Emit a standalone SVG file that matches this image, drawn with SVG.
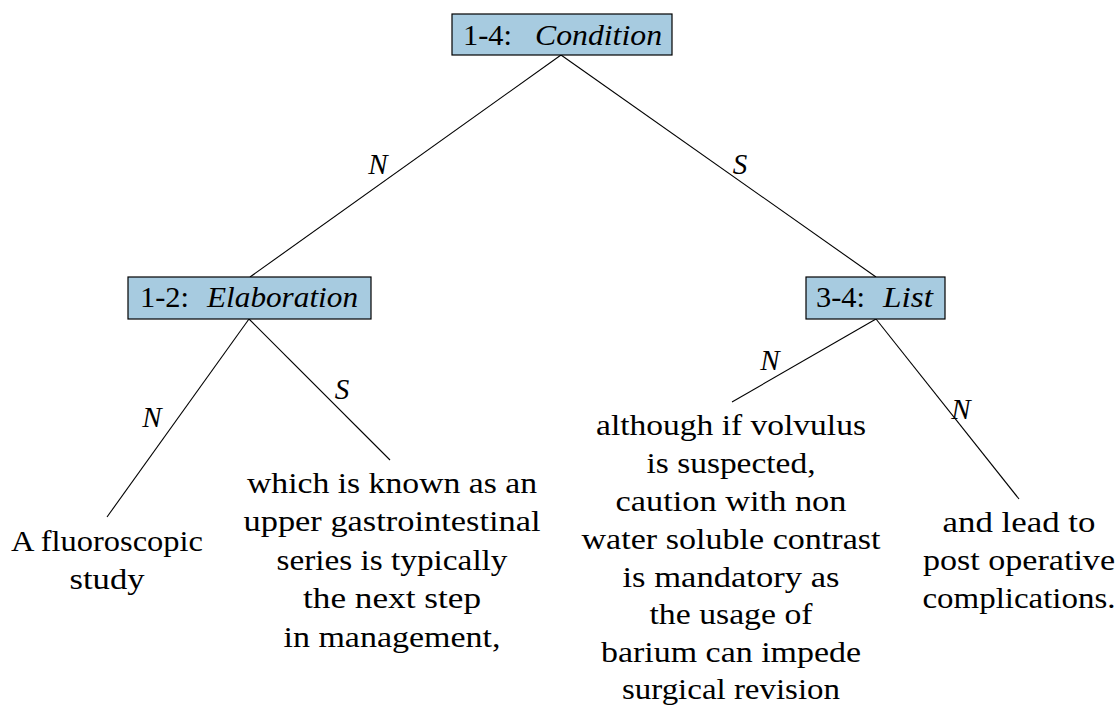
<svg xmlns="http://www.w3.org/2000/svg" width="1119" height="709" viewBox="0 0 1119 709">
<style>
.box{fill:#a7cbe0;stroke:#000;stroke-width:1.2}
.t{font-family:"Liberation Serif","DejaVu Serif",serif;font-size:29px;fill:#000;text-anchor:middle}
.b{font-family:"Liberation Serif","DejaVu Serif",serif;font-size:29px;fill:#000}
.it{font-style:italic}
.lbl{font-family:"Liberation Serif","DejaVu Serif",serif;font-size:29px;font-style:italic;fill:#000;text-anchor:middle}
.e{stroke:#000;stroke-width:1.1;fill:none}
</style>
<rect width="1119" height="709" fill="#fff"/>
<g id="connectors">
<line class="e" x1="561" y1="55" x2="250" y2="277"/>
<line class="e" x1="561" y1="55" x2="876" y2="277"/>
<line class="e" x1="249" y1="319" x2="107" y2="517"/>
<line class="e" x1="249" y1="319" x2="390" y2="460"/>
<line class="e" x1="876" y1="319" x2="732" y2="402"/>
<line class="e" x1="876" y1="319" x2="1019" y2="499"/>
<text class="lbl" x="378" y="174">N</text>
<text class="lbl" x="740" y="174">S</text>
<text class="lbl" x="152" y="427">N</text>
<text class="lbl" x="342" y="399">S</text>
<text class="lbl" x="770" y="370">N</text>
<text class="lbl" x="961" y="419">N</text>
</g>
<g id="n14">
<rect class="box" x="452" y="14" width="220" height="41"/>
<text class="b" x="463" y="45" textLength="49" lengthAdjust="spacingAndGlyphs">1-4:</text>
<text class="b it" x="535" y="45" textLength="127" lengthAdjust="spacingAndGlyphs">Condition</text>
</g>
<g id="n12">
<rect class="box" x="128" y="277" width="243" height="42"/>
<text class="b" x="140" y="307" textLength="49" lengthAdjust="spacingAndGlyphs">1-2:</text>
<text class="b it" x="207" y="307" textLength="151" lengthAdjust="spacingAndGlyphs">Elaboration</text>
</g>
<g id="n34">
<rect class="box" x="806" y="277" width="139" height="42"/>
<text class="b" x="816" y="307" textLength="49" lengthAdjust="spacingAndGlyphs">3-4:</text>
<text class="b it" x="883" y="307" textLength="50" lengthAdjust="spacingAndGlyphs">List</text>
</g>
<g id="leaf1">
<text class="t" x="107" y="551" textLength="192" lengthAdjust="spacingAndGlyphs">A fluoroscopic</text>
<text class="t" x="107" y="589" textLength="75" lengthAdjust="spacingAndGlyphs">study</text>
</g>
<g id="leaf2">
<text class="t" x="392" y="493" textLength="290" lengthAdjust="spacingAndGlyphs">which is known as an</text>
<text class="t" x="392" y="531" textLength="297" lengthAdjust="spacingAndGlyphs">upper gastrointestinal</text>
<text class="t" x="392" y="570" textLength="231" lengthAdjust="spacingAndGlyphs">series is typically</text>
<text class="t" x="392" y="608" textLength="178" lengthAdjust="spacingAndGlyphs">the next step</text>
<text class="t" x="392" y="647" textLength="217" lengthAdjust="spacingAndGlyphs">in management,</text>
</g>
<g id="leaf3">
<text class="t" x="731" y="435" textLength="270" lengthAdjust="spacingAndGlyphs">although if volvulus</text>
<text class="t" x="731" y="473" textLength="169" lengthAdjust="spacingAndGlyphs">is suspected,</text>
<text class="t" x="731" y="511" textLength="231" lengthAdjust="spacingAndGlyphs">caution with non</text>
<text class="t" x="731" y="549" textLength="299" lengthAdjust="spacingAndGlyphs">water soluble contrast</text>
<text class="t" x="731" y="587" textLength="217" lengthAdjust="spacingAndGlyphs">is mandatory as</text>
<text class="t" x="731" y="624" textLength="163" lengthAdjust="spacingAndGlyphs">the usage of</text>
<text class="t" x="731" y="662" textLength="260" lengthAdjust="spacingAndGlyphs">barium can impede</text>
<text class="t" x="731" y="699" textLength="218" lengthAdjust="spacingAndGlyphs">surgical revision</text>
</g>
<g id="leaf4">
<text class="t" x="1019" y="532" textLength="153" lengthAdjust="spacingAndGlyphs">and lead to</text>
<text class="t" x="1019" y="570" textLength="192" lengthAdjust="spacingAndGlyphs">post operative</text>
<text class="t" x="1019" y="608" textLength="193" lengthAdjust="spacingAndGlyphs">complications.</text>
</g>
</svg>
